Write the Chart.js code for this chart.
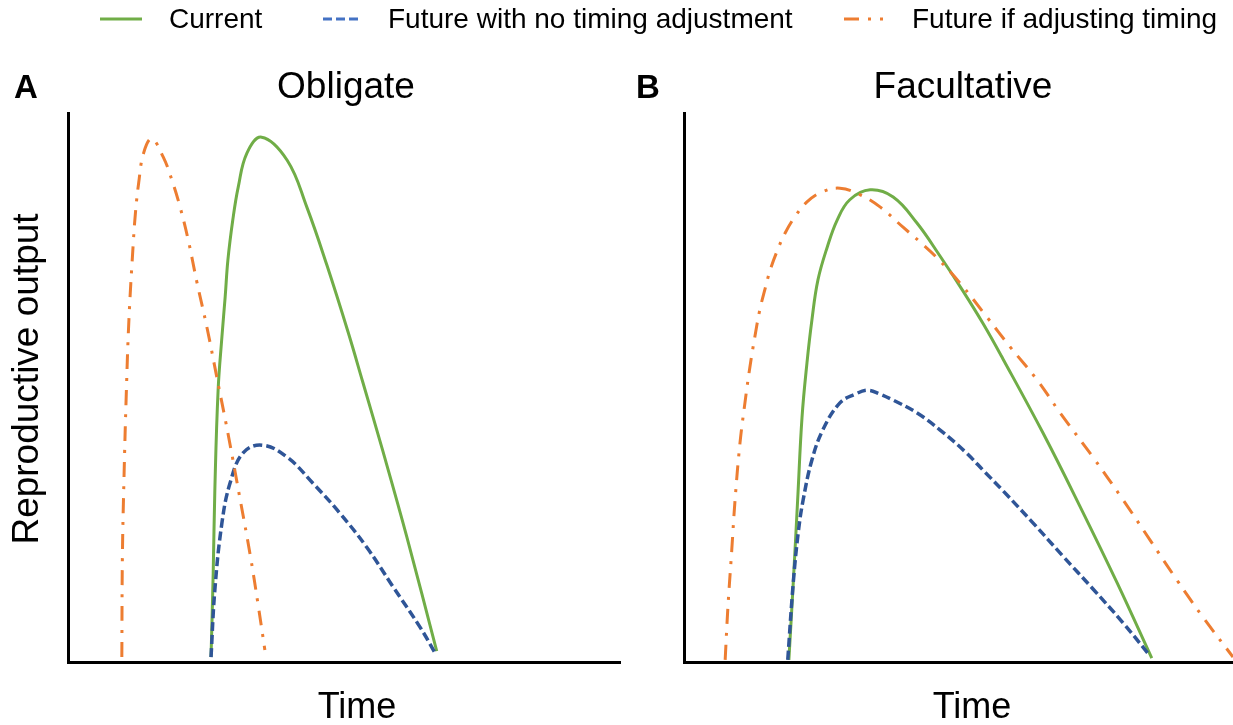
<!DOCTYPE html>
<html>
<head>
<meta charset="utf-8">
<script src="https://cdn.jsdelivr.net/npm/chart.js@4.4.1/dist/chart.umd.min.js"></script>
<style>
  html, body { margin: 0; padding: 0; background: #fff; }
  body { width: 1233px; height: 725px; position: relative; overflow: hidden; font-family: "Liberation Sans", Arial, sans-serif; }
  canvas { position: absolute; }
  #chart-a { left: 50px; top: 100px; }
  #chart-b { left: 664px; top: 100px; }
  #overlay { position: absolute; left: 0; top: 0; pointer-events: none; }
</style>
</head>
<body>
<canvas id="chart-a" width="590" height="580"></canvas>
<canvas id="chart-b" width="569" height="580"></canvas>
<svg id="overlay" width="1233" height="725" font-family="Liberation Sans, Arial, sans-serif" fill="#000"></svg>

<script>
// --- Data (time, reproductive output) ---
const seriesLabels = ['Current', 'Future with no timing adjustment', 'Future if adjusting timing'];
const panelTitles = ['Obligate', 'Facultative'];
const panelLetters = ['A', 'B'];
const xAxisLabel = 'Time';
const yAxisLabel = 'Reproductive output';

// Panel A - obligate
const obligateCurrent = [
    [26.3, 0.9], [26.7, 16.2], [27.0, 31.3], [27.6, 49.5], [28.3, 59.2], [28.9, 66.5], [29.4, 73.2],
    [30.3, 80.5], [31.3, 86.5], [32.9, 92.7], [35.6, 95.6], [40.3, 91.4], [43.9, 82.9], [47.6, 72.3],
    [51.5, 60.1], [54.2, 51.0], [57.9, 38.4], [62.3, 22.8], [67.8, 2.0]
];
const obligateNoAdjust = [
    [26.3, 0.9], [27.0, 13.1], [28.3, 25.3], [29.8, 32.6], [32.2, 38.1], [35.7, 39.5], [40.3, 37.3],
    [45.0, 32.6], [50.0, 27.1], [55.0, 20.8], [59.7, 13.8], [64.7, 6.4], [67.7, 1.3]
];
const obligateAdjust = [
    [9.9, 0.9], [10.0, 19.1], [10.3, 33.7], [10.7, 48.3], [11.2, 62.3], [12.0, 76.3], [12.4, 81.8],
    [13.0, 87.3], [13.9, 92.7], [15.4, 95.3], [17.5, 92.0], [19.1, 87.8], [20.6, 82.9], [22.1, 76.9],
    [23.7, 69.2], [25.6, 60.7], [27.4, 51.7], [29.4, 41.7], [31.6, 29.9], [33.5, 19.5], [34.9, 10.8],
    [36.2, 2.2]
];

// Panel B - facultative
const facultativeCurrent = [
    [19.1, 0.4], [19.9, 14.4], [20.7, 29.5], [21.5, 44.6], [22.4, 54.5], [23.3, 62.3], [24.4, 69.6],
    [26.1, 75.6], [27.9, 80.5], [30.2, 84.2], [33.9, 86.0], [38.1, 84.7], [42.4, 80.0], [46.6, 74.0],
    [50.8, 67.6], [54.5, 61.6], [58.1, 55.2], [65.4, 41.7], [72.1, 28.4], [78.9, 14.4], [85.2, 0.7]
];
const facultativeNoAdjust = [
    [18.9, 0.4], [19.9, 14.4], [20.8, 23.5], [21.7, 29.5], [23.3, 36.8], [25.3, 42.3], [28.4, 47.2],
    [31.2, 48.8], [33.5, 49.5], [35.7, 48.8], [38.1, 47.7], [42.4, 45.4], [46.6, 42.3], [51.2, 38.3],
    [54.8, 34.6], [58.1, 31.2], [63.6, 25.3], [69.0, 19.3], [74.5, 13.3], [80.0, 7.1], [84.9, 1.1]
];
const facultativeAdjust = [
    [7.5, 0.4], [8.0, 10.0], [8.7, 20.4], [9.3, 29.5], [10.2, 39.9], [11.1, 47.2], [12.0, 53.7],
    [12.9, 59.2], [13.8, 64.1], [14.8, 68.1], [15.7, 71.4], [16.9, 74.7], [18.4, 78.1], [20.2, 81.1],
    [22.4, 83.8], [25.1, 85.6], [28.4, 86.3], [32.1, 85.1], [35.7, 82.9], [39.9, 79.2], [43.0, 76.5],
    [46.1, 73.6], [50.3, 69.0], [55.2, 62.8], [59.4, 57.4], [64.3, 51.4], [68.5, 45.4], [74.5, 37.3],
    [80.0, 29.5], [84.9, 22.2], [89.8, 14.9], [94.5, 8.2], [100, 0.9]
];

// --- Styles ---
const lineStyles = [
    { color: '#70AD47', legendColor: '#70AD47', width: 3, dash: [] },
    { color: '#2F5597', legendColor: '#4472C4', width: 3.5, dash: [9, 4] },
    { color: '#ED7D31', legendColor: '#ED7D31', width: 3, dash: [15, 9, 3, 9] }
];

function lineSet(points, i) {
    const s = lineStyles[i];
    return {
        label: seriesLabels[i],
        data: points.map(p => ({ x: p[0], y: p[1] })),
        borderColor: s.color,
        borderWidth: s.width,
        borderDash: s.dash,
        pointRadius: 0,
        fill: false,
        tension: 0.4,
        order: 3 - i
    };
}

function makePanel(canvasId, series, xMax, padding) {
    const hiddenAxis = (min, max) => ({
        type: 'linear', min, max,
        ticks: { display: false },
        grid: { display: false, drawTicks: false },
        border: { display: true, color: '#000', width: 3 }
    });
    return new Chart(document.getElementById(canvasId), {
        type: 'line',
        data: { datasets: series.map((pts, i) => lineSet(pts, i)) },
        options: {
            responsive: false,
            animation: false,
            devicePixelRatio: 1,
            layout: { padding },
            plugins: { legend: { display: false }, tooltip: { enabled: false } },
            scales: { x: hiddenAxis(0, xMax), y: hiddenAxis(0, 100) }
        }
    });
}

makePanel('chart-a', [obligateCurrent, obligateNoAdjust, obligateAdjust], 101.5,
    { left: 18, right: 20, top: 13, bottom: 18 });
makePanel('chart-b', [facultativeCurrent, facultativeNoAdjust, facultativeAdjust], 100,
    { left: 20, right: 0, top: 13, bottom: 18 });

// --- Text and shared legend ---
const NS = 'http://www.w3.org/2000/svg';
const svg = document.getElementById('overlay');

function addText(str, attrs) {
    const t = document.createElementNS(NS, 'text');
    Object.entries(attrs).forEach(([k, v]) => t.setAttribute(k, v));
    t.textContent = str;
    svg.appendChild(t);
}

function addLine(x1, x2, y, style) {
    const l = document.createElementNS(NS, 'line');
    l.setAttribute('x1', x1); l.setAttribute('x2', x2);
    l.setAttribute('y1', y); l.setAttribute('y2', y);
    l.setAttribute('stroke', style.legendColor);
    l.setAttribute('stroke-width', 3);
    if (style.dash.length) l.setAttribute('stroke-dasharray', style.dash.join(' '));
    svg.appendChild(l);
}

const legendItems = [
    { lineFrom: 100, lineTo: 142, textX: 169 },
    { lineFrom: 323, lineTo: 362, textX: 388 },
    { lineFrom: 844, lineTo: 883, textX: 912 }
];
legendItems.forEach((item, i) => {
    addLine(item.lineFrom, item.lineTo, 19, lineStyles[i]);
    addText(seriesLabels[i], { x: item.textX, y: 28, 'font-size': 28 });
});

addText(panelLetters[0], { x: 14, y: 98, 'font-size': 33, 'font-weight': 'bold' });
addText(panelLetters[1], { x: 636, y: 98, 'font-size': 33, 'font-weight': 'bold' });
addText(panelTitles[0], { x: 346, y: 98, 'font-size': 37, 'text-anchor': 'middle' });
addText(panelTitles[1], { x: 963, y: 98, 'font-size': 37, 'text-anchor': 'middle' });
addText(yAxisLabel, { x: 0, y: 0, 'font-size': 37, 'text-anchor': 'middle', transform: 'translate(38,379) rotate(-90)' });
addText(xAxisLabel, { x: 357, y: 718, 'font-size': 36, 'text-anchor': 'middle' });
addText(xAxisLabel, { x: 972, y: 718, 'font-size': 36, 'text-anchor': 'middle' });
</script>
</body>
</html>
